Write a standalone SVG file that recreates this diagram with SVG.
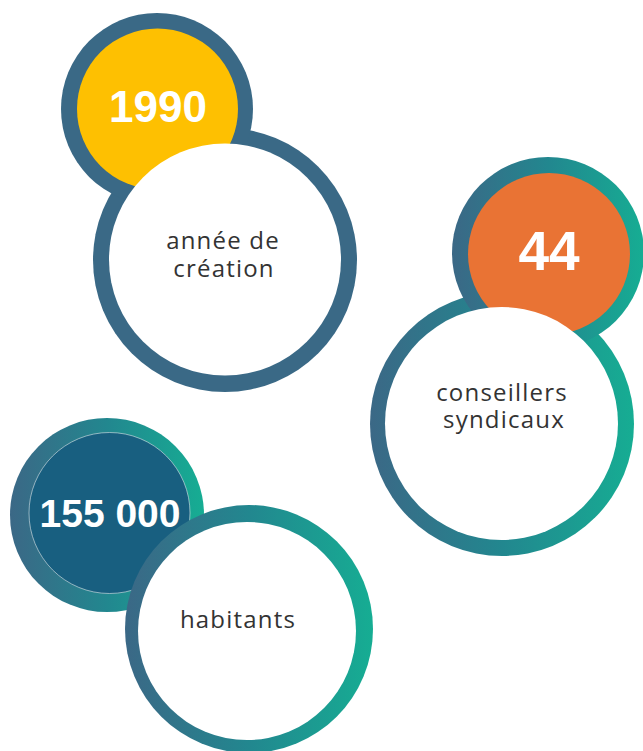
<svg xmlns="http://www.w3.org/2000/svg" width="643" height="751" viewBox="0 0 643 751">
<defs>
<linearGradient id="gr" x1="0" y1="0" x2="1" y2="0">
<stop offset="0" stop-color="#3B6886"/>
<stop offset="0.5" stop-color="#22878F"/>
<stop offset="1" stop-color="#16AD93"/>
</linearGradient>
<style>
.num{font-family:"Liberation Sans",Arial,sans-serif;font-weight:bold;fill:#fff;text-anchor:middle}
.lbl{font-family:"Open Sans","Noto Sans",sans-serif;font-size:24px;fill:#333;text-anchor:middle;letter-spacing:1.2px}
.dark{fill:#3A6986}
.grad{fill:url(#gr)}
.white{fill:#fff}
</style>
</defs>
<rect width="643" height="751" fill="#fff"/>
<g id="node-1990">
<circle class="dark" cx="225" cy="260" r="132"/>
<circle class="dark" cx="157" cy="109" r="96"/>
<circle cx="157.5" cy="109" r="80.5" fill="#FEC001"/>
<circle class="white" cx="225" cy="259.5" r="116"/>
<text class="num" x="158" y="122" font-size="44">1990</text>
<text class="lbl" x="223" y="249">année de</text>
<text class="lbl" x="224" y="277">création</text>
</g>
<g id="node-44">
<circle class="grad" cx="502" cy="424" r="132"/>
<circle class="grad" cx="548" cy="253" r="96"/>
<circle cx="549" cy="254" r="81" fill="#E97334"/>
<circle class="white" cx="501.5" cy="423.5" r="116.5"/>
<text class="num" x="549" y="270" font-size="55">44</text>
<text class="lbl" x="502" y="401">conseillers</text>
<text class="lbl" x="504" y="428">syndicaux</text>
</g>
<g id="node-155000">
<circle class="grad" cx="107" cy="515" r="97"/>
<circle cx="109.5" cy="513" r="80.5" fill="#185F80" stroke="#dfe6ea" stroke-width="0.6"/>
<circle class="grad" cx="249" cy="629" r="124"/>
<circle class="white" cx="247" cy="631" r="109"/>
<text class="num" x="110" y="527" font-size="39">155 000</text>
<text class="lbl" x="238" y="628">habitants</text>
</g>
<g id="connectors"/>
</svg>
